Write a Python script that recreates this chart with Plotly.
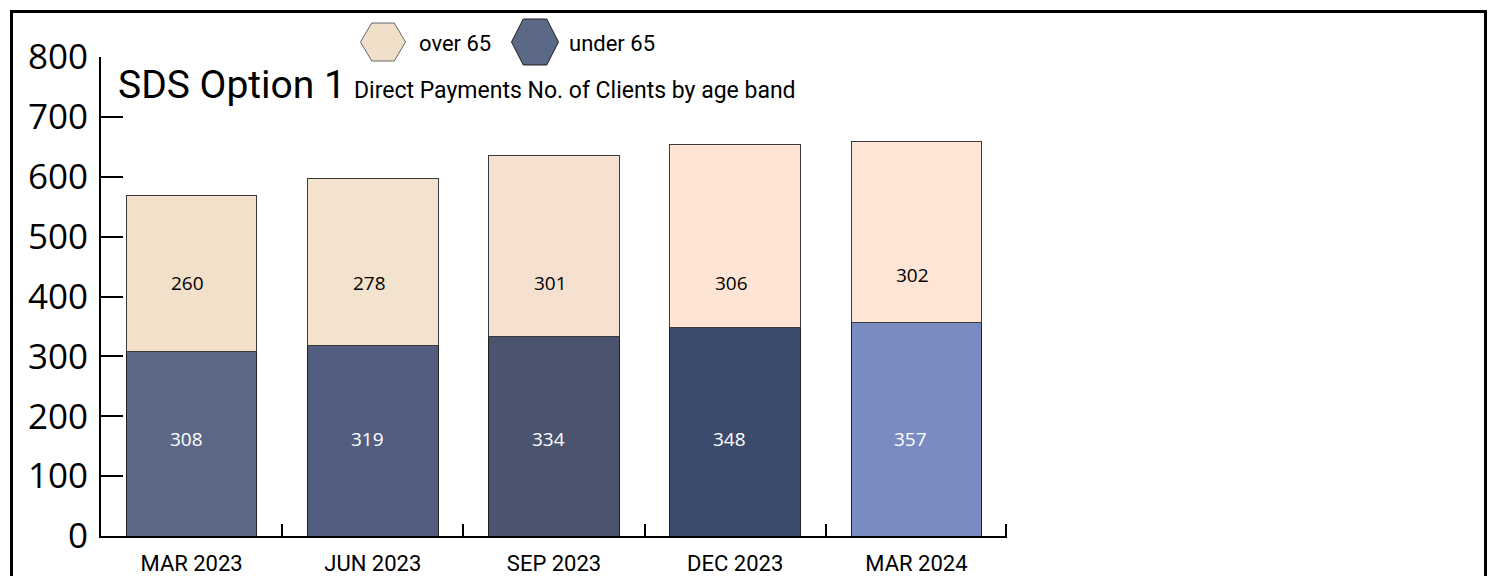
import plotly.graph_objects as go

# Quarterly Direct Payments client counts, split by age band
quarters = ["MAR 2023", "JUN 2023", "SEP 2023", "DEC 2023", "MAR 2024"]
under_65 = [308, 319, 334, 348, 357]
over_65 = [260, 278, 301, 306, 302]

under_colors = ["#5b6986", "#525d80", "#4b546e", "#3c4a6e", "#7a8bc2"]
over_colors = ["#f2e0cb", "#f3e2cd", "#f6e1d0", "#fde4d4", "#fee5d5"]

# heights (data units) at which the value labels sit inside the segments
under_label_y = [162, 162, 162, 162, 162]
over_label_y = [422, 422, 422, 422, 436]

fig = go.Figure()
fig.add_trace(go.Bar(
    x=quarters, y=under_65, name="under 65",
    marker=dict(color=under_colors, line=dict(color="#1f1f1f", width=1)),
    width=0.72, showlegend=False, hoverinfo="x+y",
))
fig.add_trace(go.Bar(
    x=quarters, y=over_65, name="over 65",
    marker=dict(color=over_colors, line=dict(color="#3a3a3a", width=1)),
    width=0.72, showlegend=False, hoverinfo="x+y",
))

for i, (v, ly) in enumerate(zip(under_65, under_label_y)):
    fig.add_annotation(x=i - 0.03, y=ly, text=str(v), showarrow=False,
                       font=dict(family="Open Sans", size=19, color="white"))
for i, (v, ly) in enumerate(zip(over_65, over_label_y)):
    fig.add_annotation(x=i - 0.02, y=ly, text=str(v), showarrow=False,
                       font=dict(family="Open Sans", size=19, color="black"))

# plot area spans x 101..1007 px, y 57..536 px
L, R, T, B = 101, 1007, 57, 536
PW, PH = R - L, B - T


def px(xp):
    return (xp - L) / PW


def py(yp):
    return (B - yp) / PH


def hexagon(cx, cy, w, h):
    pts = [(cx - w / 2, cy), (cx - w / 4, cy - h / 2), (cx + w / 4, cy - h / 2),
           (cx + w / 2, cy), (cx + w / 4, cy + h / 2), (cx - w / 4, cy + h / 2)]
    return "M " + " L ".join(f"{px(a):.5f},{py(b):.5f}" for a, b in pts) + " Z"


shapes = [
    # outer frame
    dict(type="rect", xref="paper", yref="paper",
         x0=px(11.5), x1=px(1485.5), y0=py(600), y1=py(11.5),
         line=dict(color="black", width=3), layer="above"),
    # closing tick at the right end of the category axis
    dict(type="line", xref="paper", yref="paper",
         x0=px(1006), x1=px(1006), y0=0, y1=12 / PH,
         line=dict(color="black", width=2)),
    # legend swatches
    dict(type="path", xref="paper", yref="paper", path=hexagon(383, 42, 45, 38),
         fillcolor="#f0dfc9", line=dict(color="#666666", width=1)),
    dict(type="path", xref="paper", yref="paper", path=hexagon(535, 42, 47, 46),
         fillcolor="#5b6986", line=dict(color="#1f1f1f", width=1)),
]

fig.add_annotation(xref="paper", yref="paper", x=px(417), y=py(43), xanchor="left",
                   yanchor="middle", text="over 65", showarrow=False,
                   font=dict(family="Roboto", size=22, color="black"))
fig.add_annotation(xref="paper", yref="paper", x=px(567), y=py(43), xanchor="left",
                   yanchor="middle", text="under 65", showarrow=False,
                   font=dict(family="Roboto", size=22, color="black"))

# chart title and subtitle
fig.add_annotation(xref="paper", yref="paper", x=px(116), y=py(85), xanchor="left",
                   yanchor="middle", text="SDS Option 1", showarrow=False,
                   font=dict(family="Roboto", size=39, color="black"))
fig.add_annotation(xref="paper", yref="paper", x=px(352), y=py(90), xanchor="left",
                   yanchor="middle", text="Direct Payments No. of Clients by age band",
                   showarrow=False, font=dict(family="Roboto", size=23, color="black"))

fig.update_layout(
    barmode="stack",
    width=1493, height=576,
    margin=dict(l=L, r=1493 - R, t=T, b=576 - B, pad=0),
    paper_bgcolor="white", plot_bgcolor="white",
    shapes=shapes,
    showlegend=False,
)
fig.update_xaxes(
    type="category", range=[-0.5, 4.5], automargin=False,
    showline=True, linecolor="black", linewidth=2,
    ticks="inside", ticklen=12, tickwidth=2, tickcolor="black",
    tickson="boundaries", showgrid=False, zeroline=False,
    tickfont=dict(family="Roboto", size=22, color="black"),
    ticklabelstandoff=7,
)
fig.update_yaxes(
    range=[0, 800], tickvals=[0, 100, 200, 300, 400, 500, 600, 700, 800],
    automargin=False,
    showline=True, linecolor="black", linewidth=2,
    ticks="inside", ticklen=22, tickwidth=2, tickcolor="black",
    showgrid=False, zeroline=False,
    tickfont=dict(family="Open Sans", size=35, color="black"),
    ticklabelstandoff=4,
)

fig.write_html("out.html")
